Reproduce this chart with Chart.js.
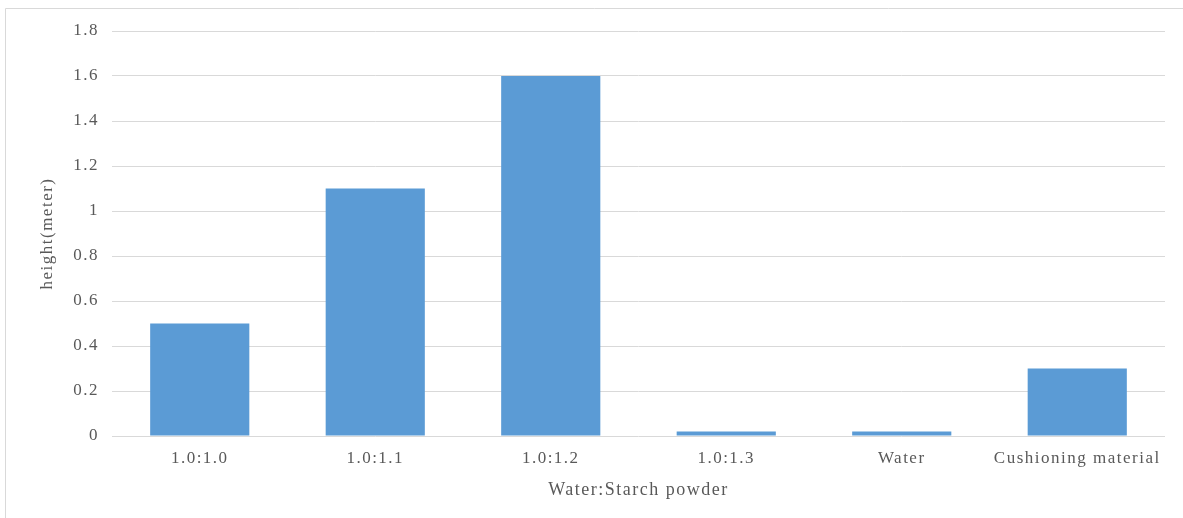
<!DOCTYPE html>
<html>
<head>
<meta charset="utf-8">
<script src="https://cdn.jsdelivr.net/npm/chart.js@4/dist/chart.umd.min.js"></script>
<style>
  html, body { margin: 0; padding: 0; background: #ffffff; }
  canvas { display: block; }
</style>
</head>
<body>
<canvas id="c" width="1183" height="518"></canvas>
<script>
const categories = ['1.0:1.0', '1.0:1.1', '1.0:1.2', '1.0:1.3', 'Water', 'Cushioning material'];
const heights = [0.5, 1.1, 1.6, 0.02, 0.02, 0.3];
const yTickLabels = ['0', '0.2', '0.4', '0.6', '0.8', '1', '1.2', '1.4', '1.6', '1.8'];
const xTitle = 'Water:Starch powder';
const yTitle = 'height(meter)';

const TEXT = '#595959';
const GRID = '#D9D9D9';
const FONT = '"Liberation Serif", "Times New Roman", serif';

const spacingPlugin = {
  id: 'spacing',
  beforeLayout(chart) { chart.ctx.letterSpacing = '1.5px'; },
  beforeDraw(chart) {
    const ctx = chart.ctx;
    ctx.letterSpacing = '1.5px';
    ctx.save();
    ctx.strokeStyle = GRID;
    ctx.lineWidth = 1;
    ctx.beginPath();
    ctx.moveTo(5.5, 518);
    ctx.lineTo(5.5, 8.5);
    ctx.lineTo(1183, 8.5);
    ctx.stroke();
    ctx.restore();
  }
};

new Chart(document.getElementById('c'), {
  type: 'bar',
  data: {
    labels: categories,
    datasets: [{
      data: heights,
      backgroundColor: '#5B9BD5',
      borderWidth: 0,
      categoryPercentage: 1.0,
      barPercentage: 0.565
    }]
  },
  options: {
    responsive: false,
    animation: false,
    devicePixelRatio: 1,
    layout: { padding: { left: 0, right: 18, top: 31, bottom: 0 } },
    plugins: {
      legend: { display: false },
      tooltip: { enabled: false }
    },
    scales: {
      x: {
        grid: { display: false, drawTicks: false },
        border: { display: false },
        ticks: {
          color: TEXT,
          font: { family: FONT, size: 17 },
          padding: 12,
          maxRotation: 0,
          autoSkip: false
        },
        title: {
          display: true,
          text: xTitle,
          color: TEXT,
          font: { family: FONT, size: 18 },
          padding: { top: 0, bottom: 17 }
        },
        afterFit(scale) { scale.height = 82; }
      },
      y: {
        min: 0,
        max: 1.8,
        grid: { color: GRID, drawTicks: false, lineWidth: 1 },
        border: { display: false },
        ticks: {
          stepSize: 0.2,
          color: TEXT,
          font: { family: FONT, size: 17 },
          padding: 13,
          callback: (v, i) => yTickLabels[i]
        },
        title: {
          display: true,
          text: yTitle,
          color: TEXT,
          font: { family: FONT, size: 17 },
          padding: { top: 37, bottom: 0 }
        },
        afterFit(scale) { scale.width = 112; }
      }
    }
  },
  plugins: [spacingPlugin]
});
</script>
</body>
</html>
